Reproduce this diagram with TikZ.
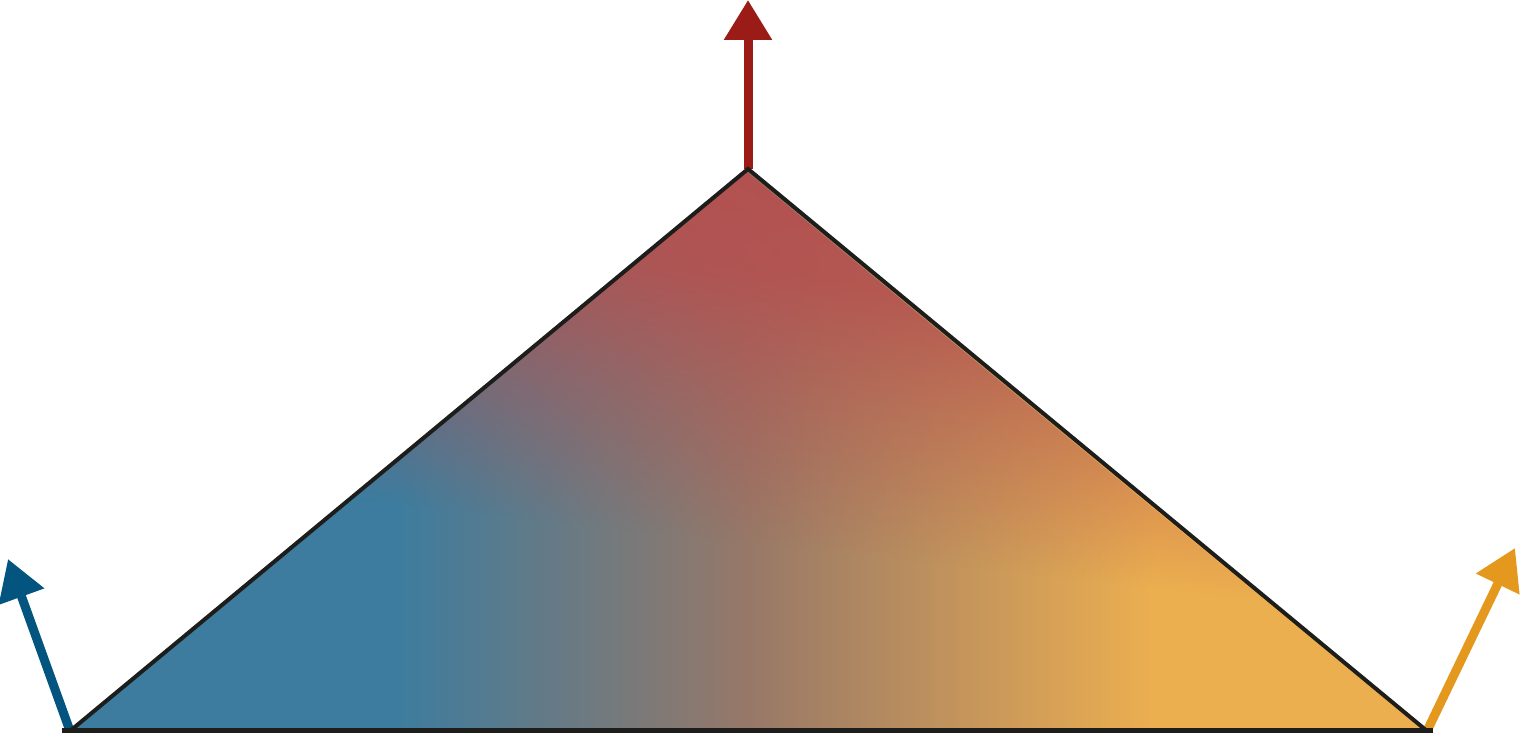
\documentclass[tikz,border=0pt]{standalone}
\usepackage{xcolor}
\usetikzlibrary{arrows.meta, fadings}
\definecolor{triblue}{HTML}{3D7C9E}
\definecolor{trimid}{HTML}{977868}
\definecolor{triorange}{HTML}{ECAF50}
\definecolor{trired}{HTML}{B54F4F}
\definecolor{arrblue}{HTML}{03557F}
\definecolor{arrred}{HTML}{9B1B17}
\definecolor{arrorange}{HTML}{E5981E}
\definecolor{edge}{HTML}{1D1D1B}
\pgfdeclarehorizontalshading{blueorange}{100bp}{color(0bp)=(triblue); color(37bp)=(triblue); color(50bp)=(trimid); color(65bp)=(triorange); color(100bp)=(triorange)}
\pgfdeclareverticalshading{redmask}{100bp}{color(0bp)=(transparent!100); color(42bp)=(transparent!100); color(55bp)=(transparent!55); color(65bp)=(transparent!15); color(75bp)=(transparent!5); color(100bp)=(transparent!5)}
\pgfdeclarefading{fade red}{\pgfuseshading{redmask}}

\begin{document}
\begin{tikzpicture}[
  vec/.style={line width=0.18cm, -{Triangle[length=0.8cm, width=0.92cm]}},
  side/.style={draw=edge, line width=0.08cm, line join=miter}
]
  \useasboundingbox (0,0) rectangle (30.4,14.7);

  % corners of the triangle
  \coordinate (left) at (1.40,0.08);
  \coordinate (apex) at (14.96,11.32);
  \coordinate (right) at (28.54,0.08);
  \coordinate (baseW) at (1.24,0.08);
  \coordinate (baseE) at (28.66,0.08);

  % arrow ends
  \coordinate (upTip) at (14.96,14.70);
  \coordinate (leftTip) at (0.16,3.52);
  \coordinate (rightTip) at (30.30,3.74);

  % vectors
  \draw[vec, arrred] (apex) -- (upTip);
  \draw[vec, arrblue] (left) -- (leftTip);
  \draw[vec, arrorange] (right) -- (rightTip);

  % gradient fill
  \shade[shading=blueorange] (left) -- (apex) -- (right) -- cycle;
  \fill[trired, path fading=fade red, fading angle=-15] (left) -- (apex) -- (right) -- cycle;

  % outline
  \draw[side] (left) -- (apex) -- (right);
  \draw[draw=edge, line width=0.1cm] (baseW) -- (baseE);
\end{tikzpicture}
\end{document}
